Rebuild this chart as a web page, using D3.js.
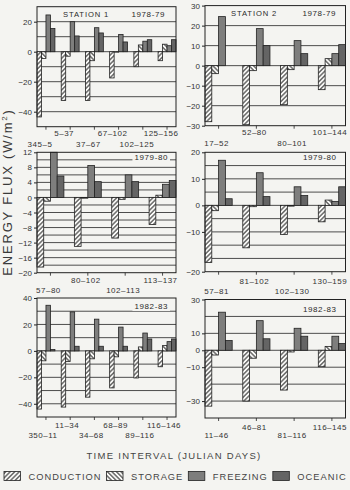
<!DOCTYPE html>
<html><head><meta charset="utf-8">
<script src="https://cdn.jsdelivr.net/npm/d3@7"></script>
<style>
html,body{margin:0;padding:0;background:#f4f4f1;}
svg{display:block;font-family:"Liberation Sans",Arial,sans-serif;}
</style></head><body>
<svg id="c" width="350" height="490"></svg>
<script>
const series = ["CONDUCTION","STORAGE","FREEZING","OCEANIC"];

// Station 1, 1978-79
const s1y78Intervals = ["345-5","5-37","37-67","67-102","102-125","125-156"];
const s1y78Conduction = [-43.5,-32.5,-32.5,-17.5,-10,-6];
const s1y78Storage = [-4.5,-3,-6,-0.3,4.5,5];
const s1y78Freezing = [24.5,20,16,11.5,7,4];
const s1y78Oceanic = [15.5,10.5,12.5,6.5,8,8];
const s1y78Ticks = [20,0,-20,-40];

// Station 2, 1978-79
const s2y78Intervals = ["17-52","52-80","80-101","101-144"];
const s2y78Conduction = [-28,-29.5,-19.5,-12];
const s2y78Storage = [-4,-2.5,-2,3.5];
const s2y78Freezing = [24.5,18.5,12.5,6];
const s2y78Oceanic = [0,10,6,10.5];
const s2y78Ticks = [30,20,10,0,-10,-20,-30];

// Station 1, 1979-80
const s1y79Intervals = ["57-80","80-102","102-113","113-137"];
const s1y79Conduction = [-18.5,-13,-10.8,-7.2];
const s1y79Storage = [-1,-0.2,-0.5,0.6];
const s1y79Freezing = [12,8.5,6,3.5];
const s1y79Oceanic = [5.7,4.2,4.2,4.5];
const s1y79Ticks = [12,8,4,0,-4,-8,-12,-16,-20];

// Station 2, 1979-80
const s2y79Intervals = ["57-81","81-102","102-130","130-159"];
const s2y79Conduction = [-21.5,-16,-11,-6.2];
const s2y79Storage = [-2,-0.5,-0.3,2];
const s2y79Freezing = [17,12.3,7,1.5];
const s2y79Oceanic = [2.5,3.3,3.7,7];
const s2y79TickValues = [20,10,0,-10,-25];
const s2y79TickLabels = ["20","10","0","-10","-20"];

// Station 1, 1982-83
const s1y82Intervals = ["350-11","11-34","34-68","68-89","89-116","116-146"];
const s1y82Conduction = [-44,-42.5,-35,-28,-20.5,-12];
const s1y82Storage = [-7.5,-8,-6,-4.5,3,4];
const s1y82Freezing = [34.5,29.5,24,18,13.5,7];
const s1y82Oceanic = [1,3.5,3.5,3.5,9,9];
const s1y82Ticks = [40,20,0,-20,-40];

// Station 2, 1982-83
const s2y82Intervals = ["11-46","46-81","81-116","116-145"];
const s2y82Conduction = [-33,-30,-23.5,-9.7];
const s2y82Storage = [-2.8,-4.7,-1,2.3];
const s2y82Freezing = [22.5,17.5,13,8.3];
const s2y82Oceanic = [5.8,6.8,8.3,4];
const s2y82Ticks = [30,10,0,-10,-30];

const yTitle = "ENERGY FLUX (W/m";
const xTitle = "TIME INTERVAL (JULIAN DAYS)";

const panels = [
  {iv:s1y78Intervals, vals:[s1y78Conduction,s1y78Storage,s1y78Freezing,s1y78Oceanic], tv:s1y78Ticks, tl:s1y78Ticks.map(String),
   dom:[-50,30], step:10, x:[37,176], y:[6.7,126.7], station:"STATION 1", sx:63, year:"1978-79", yx:165, ty:17, rows:[135.5,147], off:-6},
  {iv:s2y78Intervals, vals:[s2y78Conduction,s2y78Storage,s2y78Freezing,s2y78Oceanic], tv:s2y78Ticks, tl:s2y78Ticks.map(String),
   dom:[-30,30], step:10, x:[205,345.5], y:[5.6,125.7], station:"STATION 2", sx:231, year:"1978-79", yx:336, ty:16, rows:[134.5,146], off:-2},
  {iv:s1y79Intervals, vals:[s1y79Conduction,s1y79Storage,s1y79Freezing,s1y79Oceanic], tv:s1y79Ticks, tl:s1y79Ticks.map(String),
   dom:[-20,12], step:2, x:[37,176], y:[152.3,272.7], year:"1979-80", yx:168, ty:160, rows:[282.5,293], off:-2},
  {iv:s2y79Intervals, vals:[s2y79Conduction,s2y79Storage,s2y79Freezing,s2y79Oceanic], tv:s2y79TickValues, tl:s2y79TickLabels,
   dom:[-25,20], step:5, x:[205,345.5], y:[152.3,271.7], year:"1979-80", yx:336.5, ty:160, rows:[283.5,293.5], off:-2},
  {iv:s1y82Intervals, vals:[s1y82Conduction,s1y82Storage,s1y82Freezing,s1y82Oceanic], tv:s1y82Ticks, tl:s1y82Ticks.map(String),
   dom:[-50,40], step:10, x:[37,176], y:[298,417], year:"1982-83", yx:168, ty:309, rows:[428,438], off:-3},
  {iv:s2y82Intervals, vals:[s2y82Conduction,s2y82Storage,s2y82Freezing,s2y82Oceanic], tv:s2y82Ticks, tl:s2y82Ticks.map(String),
   dom:[-40,30], step:10, x:[205,345.5], y:[299.5,418], year:"1982-83", yx:336.5, ty:312, rows:[429.5,438], off:-2}
];

const svg = d3.select("#c");
const ink = "#2a2a2a";
const defs = svg.append("defs");
function hatch(id, size, angle, bg, sw, col){
  const p = defs.append("pattern").attr("id",id).attr("patternUnits","userSpaceOnUse")
    .attr("width",size).attr("height",size).attr("patternTransform",`rotate(${angle})`);
  p.append("rect").attr("width",size).attr("height",size).attr("fill",bg);
  p.append("line").attr("x1",size/2).attr("y1",-1).attr("x2",size/2).attr("y2",size+1)
    .attr("stroke",col).attr("stroke-width",sw);
}
hatch("pCond",3.2,45,"#fbfbf9",1,"#222");
hatch("pStor",3.2,-45,"#fbfbf9",1,"#222");
hatch("pFrz",1.9,45,"#b4b4b2",0.8,"#333");
hatch("pOce",1.9,-45,"#a0a0a0",0.9,"#222");
const fills = d3.scaleOrdinal().domain(series).range(["url(#pCond)","url(#pStor)","url(#pFrz)","url(#pOce)"]);

panels.forEach(p=>{
  const g = svg.append("g");
  const y = d3.scaleLinear().domain(p.dom).range([p.y[1],p.y[0]]);
  const x = d3.scaleBand().domain(p.iv).range(p.x).paddingInner(p.iv.length>4?0.26:0.28).paddingOuter(0);
  const xs = d3.scaleBand().domain(series).range([0,x.bandwidth()]);
  const grid = d3.range(p.dom[0]+p.step, p.dom[1]-p.step/2, p.step);
  g.selectAll(".grid").data(grid).join("line")
    .attr("x1",p.x[0]).attr("x2",p.x[1]).attr("y1",d=>y(d)).attr("y2",d=>y(d))
    .attr("stroke","#3a3a3a").attr("stroke-width",0.9);
  const yt = g.append("text").attr("x",p.yx).attr("y",p.ty).attr("text-anchor","end")
    .attr("font-size",8).attr("letter-spacing",0.6).attr("fill",ink).text(p.year);
  const bb = yt.node().getBBox();
  g.insert("rect", "text").attr("x",bb.x-2).attr("y",bb.y).attr("width",bb.width+4).attr("height",bb.height)
    .attr("fill","#f4f4f1");
  if(p.station){
    g.append("text").attr("x",p.sx).attr("y",p.ty).attr("font-size",7.6).attr("letter-spacing",0.9)
      .attr("fill",ink).text(p.station);
  }
  const recs = [];
  p.iv.forEach((iv,i)=>series.forEach((s,j)=>recs.push({iv,s,v:p.vals[j][i]})));
  g.selectAll(".bar").data(recs).join("rect")
    .attr("x",d=>x(d.iv)+xs(d.s)).attr("width",xs.bandwidth())
    .attr("y",d=>y(Math.max(0,d.v))).attr("height",d=>Math.abs(y(d.v)-y(0)))
    .attr("fill",d=>fills(d.s)).attr("stroke","#222").attr("stroke-width",0.8);
  g.append("rect").attr("x",p.x[0]).attr("y",p.y[0]).attr("width",p.x[1]-p.x[0]).attr("height",p.y[1]-p.y[0])
    .attr("fill","none").attr("stroke","#222").attr("stroke-width",1);
  const ax = d3.axisLeft(y).tickValues(p.tv).tickSize(3).tickPadding(2).tickFormat((d,i)=>p.tl[i].replace("-","\u2212"));
  const ag = g.append("g").attr("transform",`translate(${p.x[0]},0)`).call(ax);
  ag.select(".domain").remove();
  ag.selectAll("line").attr("stroke","#222");
  ag.selectAll("text").attr("font-size",8).attr("fill","#333").attr("font-family","Liberation Sans, Arial, sans-serif");
  g.selectAll(".xt").data(p.iv).join("line")
    .attr("x1",d=>x(d)+x.bandwidth()/2).attr("x2",d=>x(d)+x.bandwidth()/2)
    .attr("y1",p.y[1]).attr("y2",p.y[1]+3).attr("stroke","#222").attr("stroke-width",0.8);
  g.selectAll(".xl").data(p.iv).join("text")
    .attr("x",d=>x(d)+x.bandwidth()/2+p.off).attr("y",(d,i)=>i%2? p.rows[0]:p.rows[1])
    .attr("text-anchor","middle").attr("font-size",8).attr("letter-spacing",0.5).attr("fill","#333")
    .text(d=>d.replace("-","\u2013"));
});

const yt = svg.append("text").attr("transform","translate(11.5,192) rotate(-90)").attr("text-anchor","middle")
  .attr("font-size",13).attr("letter-spacing",1.8).attr("fill","#3a3a3a");
yt.append("tspan").text(yTitle);
yt.append("tspan").attr("font-size",8).attr("dy",-5).text("2");
yt.append("tspan").attr("dy",5).text(")");

svg.append("text").attr("x",174).attr("y",459).attr("text-anchor","middle").attr("font-size",9.5)
  .attr("letter-spacing",1.3).attr("fill","#444").text(xTitle);

let lx = 4;
series.forEach(s=>{
  svg.append("rect").attr("x",lx).attr("y",471.5).attr("width",16.5).attr("height",9)
    .attr("fill",fills(s)).attr("stroke","#222").attr("stroke-width",0.8);
  const t = svg.append("text").attr("x",lx+24.5).attr("y",480.3).attr("font-size",9.3).attr("letter-spacing",1)
    .attr("fill","#444").text(s);
  lx = lx + 24.5 + t.node().getComputedTextLength() + 5;
});
</script></body></html>
